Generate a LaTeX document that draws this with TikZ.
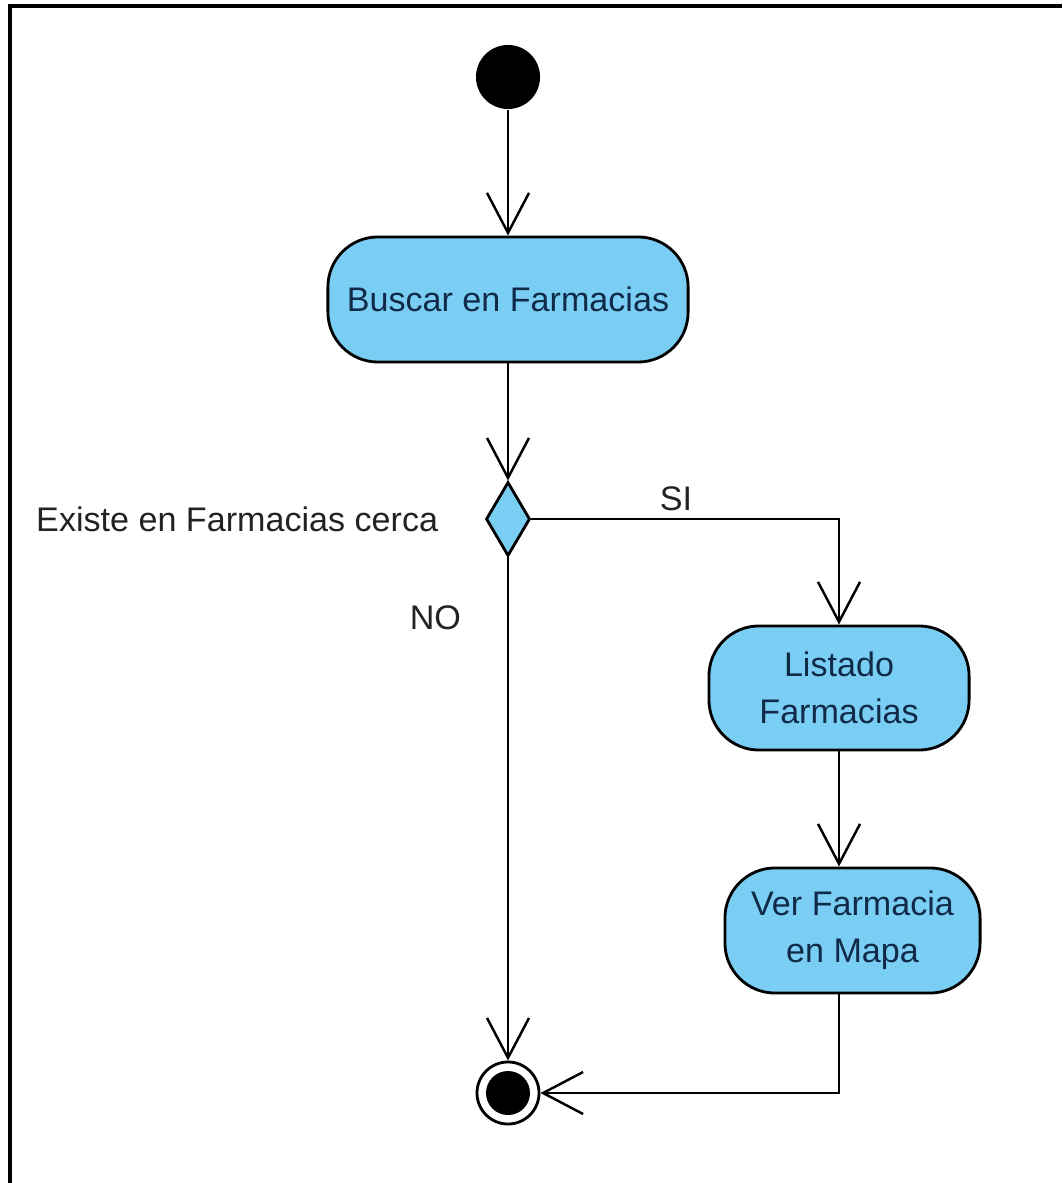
\documentclass[tikz,border=0pt]{standalone}
\usepackage{fontspec}
\setmainfont{Liberation Sans}
\usetikzlibrary{arrows.meta,shapes.geometric,positioning}
\definecolor{actblue}{RGB}{122,206,244}
\definecolor{actnavy}{RGB}{16,42,72}
\definecolor{lblgray}{RGB}{34,34,34}
\tikzset{
  action/.style={draw, line width=0.8pt, fill=actblue, rounded corners=5mm,
    text=actnavy, align=center, font=\fontsize{9.7}{13.4}\selectfont},
  lbl/.style={text=lblgray, font=\fontsize{9.7}{12}\selectfont},
  flow/.style={-{Straight Barb[length=4mm,width=4.2mm]}, line width=0.7pt}
}
\begin{document}
\begin{tikzpicture}[x=0.01cm,y=-0.01cm]
\useasboundingbox (0,0) rectangle (1062,1183);
\draw[line width=1pt] (10,1183) -- (10,6) -- (1062,6);

% nodes
\node[circle, fill=black, minimum size=0.64cm, inner sep=0] (ini) at (508,77) {};
\node[action, minimum width=3.6cm, minimum height=1.25cm] (buscar) at (508,299.5) {Buscar en Farmacias};
\node[diamond, draw, line width=0.8pt, fill=actblue, inner sep=0,
      minimum width=0.44cm, minimum height=0.74cm] (dec) at (508,519) {};
\node[lbl, left=3.4mm of dec] (cond) {Existe en Farmacias cerca};
\node[action, minimum width=2.6cm, minimum height=1.24cm] (listado) at (839,688) {Listado\\Farmacias};
\node[action, minimum width=2.55cm, minimum height=1.25cm] (ver) at (852.5,930.5) {Ver Farmacia\\en Mapa};
\node[circle, draw, line width=0.8pt, minimum size=0.62cm, inner sep=0] (fin) at (508,1093) {};
\fill (fin) circle (0.22cm);

% flows
\draw[flow] (ini) -- (buscar);
\draw[flow] (buscar) -- (dec);
\draw[flow] (dec.east) -| (listado.north) node[lbl, pos=0.235, above=-0.5mm] {SI};
\draw[flow] (dec.south) -- (fin.north) node[lbl, pos=0.12, left=3.4mm] {NO};
\draw[flow] (listado.south) -- (listado.south |- ver.north);
\draw[flow] (listado.south |- ver.south) |- (fin.east);
\end{tikzpicture}
\end{document}
